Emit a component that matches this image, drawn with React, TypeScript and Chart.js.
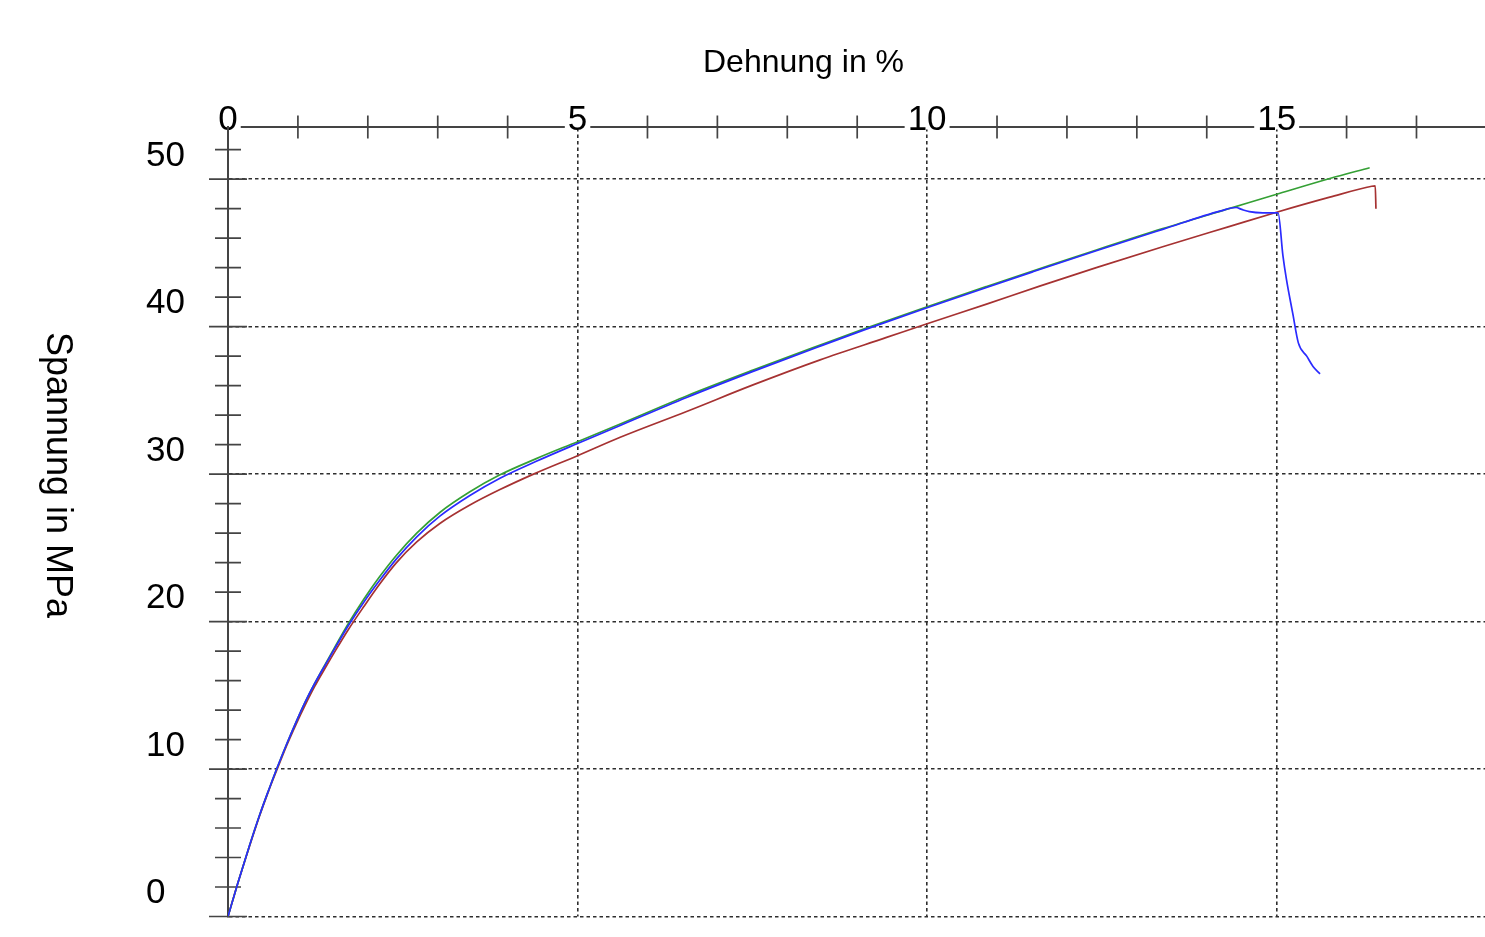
import React, { useEffect, useRef } from 'react';
import { Chart, registerables } from 'chart.js';

Chart.register(...registerables);

// Axis ticks (strain in %, stress in MPa)
const strainTicks = [0, 5, 10, 15];
const strainMinorTicks = [1, 2, 3, 4, 6, 7, 8, 9, 11, 12, 13, 14, 16, 17];
const stressTicks = [0, 10, 20, 30, 40, 50];
const stressMinorTicks = [2, 4, 6, 8, 12, 14, 16, 18, 22, 24, 26, 28, 32, 34, 36, 38, 42, 44, 46, 48, 52];

const xTitle = 'Dehnung in %';
const yTitle = 'Spannung in MPa';

// Specimen 1 (green)
const probe1Strain = [0, 0.14, 0.3, 0.45, 0.58, 0.7, 0.84, 0.98, 1.1, 1.24, 1.39, 1.53, 1.72, 1.94, 2.17, 2.41, 2.7, 3.03, 3.46, 3.89, 4.41, 5.0, 5.61, 6.56, 7.51, 8.47, 9.13, 10.0, 10.85, 11.5, 12.42, 13.37, 14.33, 15.0, 15.76, 16.33];
const probe1Stress = [0, 2.25, 4.7, 6.85, 8.55, 10.05, 11.7, 13.25, 14.5, 15.8, 17.1, 18.28, 19.85, 21.5, 23.05, 24.5, 26.0, 27.4, 28.8, 29.95, 31.05, 32.2, 33.4, 35.3, 37.05, 38.75, 39.9, 41.35, 42.72, 43.75, 45.2, 46.65, 48.02, 48.98, 50.05, 50.78];

// Specimen 2 (blue)
const probe2Strain = [0, 0.14, 0.3, 0.45, 0.58, 0.7, 0.84, 0.98, 1.1, 1.24, 1.39, 1.53, 1.72, 1.94, 2.17, 2.41, 2.7, 3.03, 3.46, 3.89, 4.41, 5.0, 5.61, 6.56, 7.51, 8.47, 9.13, 10.0, 10.85, 11.5, 12.42, 13.37, 14.2, 14.42, 14.5, 14.61, 14.8, 15.02, 15.09, 15.14, 15.23, 15.31, 15.43, 15.52, 15.62];
const probe2Stress = [0, 2.25, 4.7, 6.85, 8.55, 10.05, 11.7, 13.25, 14.5, 15.8, 17.05, 18.2, 19.72, 21.3, 22.8, 24.25, 25.75, 27.15, 28.55, 29.72, 30.87, 32.08, 33.3, 35.2, 36.97, 38.68, 39.83, 41.28, 42.66, 43.7, 45.15, 46.6, 47.85, 48.08, 47.95, 47.8, 47.72, 47.72, 44.8, 43.2, 40.9, 38.9, 38.0, 37.3, 36.8];

// Specimen 3 (red)
const probe3Strain = [0, 0.14, 0.3, 0.45, 0.58, 0.7, 0.84, 0.98, 1.1, 1.24, 1.39, 1.53, 1.72, 1.94, 2.17, 2.41, 2.7, 3.03, 3.46, 3.89, 4.37, 5.0, 5.61, 6.56, 7.51, 8.47, 9.42, 10.0, 10.85, 11.61, 12.42, 13.37, 14.33, 15.0, 15.76, 16.36, 16.41, 16.42];
const probe3Stress = [0, 2.25, 4.65, 6.8, 8.5, 9.95, 11.6, 13.1, 14.3, 15.6, 16.85, 17.98, 19.45, 21.0, 22.55, 24.0, 25.4, 26.65, 27.9, 28.95, 30.0, 31.25, 32.5, 34.25, 36.05, 37.75, 39.27, 40.2, 41.53, 42.75, 44.0, 45.42, 46.8, 47.76, 48.78, 49.52, 49.55, 48.0];

const toPoints = (xs: number[], ys: number[]) => xs.map((x, i) => ({ x, y: ys[i] }));

const FONT = '"Liberation Sans", Arial, Helvetica, sans-serif';
const AXIS_COLOR = '#444444';
const GRID_COLOR = '#2e2e2e';

export default function App() {
  const canvasRef = useRef<HTMLCanvasElement>(null);

  useEffect(() => {
    const canvas = canvasRef.current;
    if (!canvas) return;

    // Tick marks that cross the axis lines (minor and major)
    const tickMarks = {
      id: 'tickMarks',
      beforeDatasetsDraw(chart: any) {
        const { ctx, chartArea, scales } = chart;
        const xs = scales.x;
        const ys = scales.y;
        const ax = chartArea.left;
        const ay = chartArea.top;
        ctx.save();
        ctx.strokeStyle = AXIS_COLOR;
        ctx.lineWidth = 1.7;
        ctx.beginPath();
        strainMinorTicks.forEach((v) => {
          const px = xs.getPixelForValue(v);
          ctx.moveTo(px, ay - 11.5);
          ctx.lineTo(px, ay + 11.5);
        });
        stressMinorTicks.forEach((v) => {
          const py = ys.getPixelForValue(v);
          ctx.moveTo(ax - 13, py);
          ctx.lineTo(ax + 13, py);
        });
        stressTicks.forEach((v) => {
          const py = ys.getPixelForValue(v);
          ctx.moveTo(ax - 19, py);
          ctx.lineTo(ax + 19, py);
        });
        ctx.stroke();
        ctx.restore();
      },
    };

    // Axis titles: horizontal one above the top axis, vertical one reading downwards
    const axisTitles = {
      id: 'axisTitles',
      afterDraw(chart: any) {
        const { ctx } = chart;
        ctx.save();
        ctx.fillStyle = '#000';
        ctx.textAlign = 'center';
        ctx.textBaseline = 'alphabetic';
        ctx.font = `32px ${FONT}`;
        ctx.fillText(xTitle, 803.5, 71.5);
        ctx.translate(47, 475);
        ctx.rotate(Math.PI / 2);
        ctx.font = `36px ${FONT}`;
        ctx.fillText(yTitle, 0, 0);
        ctx.restore();
      },
    };

    const chart = new Chart(canvas, {
      type: 'line',
      data: {
        datasets: [
          {
            label: 'Probe 2',
            data: toPoints(probe2Strain, probe2Stress),
            borderColor: '#2b2bff',
            order: 0,
          },
          {
            label: 'Probe 1',
            data: toPoints(probe1Strain, probe1Stress),
            borderColor: '#35a035',
            order: 1,
          },
          {
            label: 'Probe 3',
            data: toPoints(probe3Strain, probe3Stress),
            borderColor: '#a63232',
            order: 2,
          },
        ],
      },
      options: {
        responsive: false,
        animation: false,
        events: [],
        layout: { padding: { left: 146, right: 0, top: 0, bottom: 19 } },
        plugins: {
          legend: { display: false },
          tooltip: { enabled: false },
        },
        elements: {
          point: { radius: 0 },
          line: { tension: 0.3, borderWidth: 1.7, fill: false, cubicInterpolationMode: 'monotone' },
        },
        scales: {
          x: {
            type: 'linear',
            position: 'top',
            min: 0,
            max: 17.98,
            afterBuildTicks: (s: any) => {
              s.ticks = strainTicks.map((value) => ({ value }));
            },
            afterFit: (s: any) => {
              s.height = 127;
            },
            grid: {
              color: (c: any) => (c.tick && c.tick.value !== 0 ? GRID_COLOR : 'rgba(0,0,0,0)'),
              lineWidth: 1.6,
              drawTicks: false,
            },
            border: { display: true, color: AXIS_COLOR, width: 2, dash: [3.5, 3] },
            ticks: {
              autoSkip: false,
              maxRotation: 0,
              minRotation: 0,
              mirror: true,
              padding: -24.5,
              color: '#000',
              font: { family: FONT, size: 35, lineHeight: 1 },
              showLabelBackdrop: true,
              backdropColor: '#ffffff',
              backdropPadding: { top: 0, bottom: -8, left: 3, right: 3 },
              callback: (v: any) => String(v),
            },
          },
          y: {
            type: 'linear',
            position: 'left',
            min: 0,
            max: 53.54,
            afterBuildTicks: (s: any) => {
              s.ticks = stressTicks.map((value) => ({ value }));
            },
            afterFit: (s: any) => {
              s.width = 82;
            },
            grid: {
              color: GRID_COLOR,
              lineWidth: 1.6,
              drawTicks: false,
            },
            border: { display: true, color: AXIS_COLOR, width: 2, dash: [3.5, 3] },
            ticks: {
              autoSkip: false,
              crossAlign: 'far',
              labelOffset: -23,
              color: '#000',
              font: { family: FONT, size: 35, lineHeight: 1 },
              callback: (v: any) => String(v),
            },
          },
        },
      } as any,
      plugins: [tickMarks, axisTitles],
    });

    return () => {
      chart.destroy();
    };
  }, []);

  return (
    <div style={{ position: 'fixed', left: 0, top: 0, background: '#fff' }}>
      <canvas ref={canvasRef} width={1485} height={937} style={{ display: 'block' }} />
    </div>
  );
}
